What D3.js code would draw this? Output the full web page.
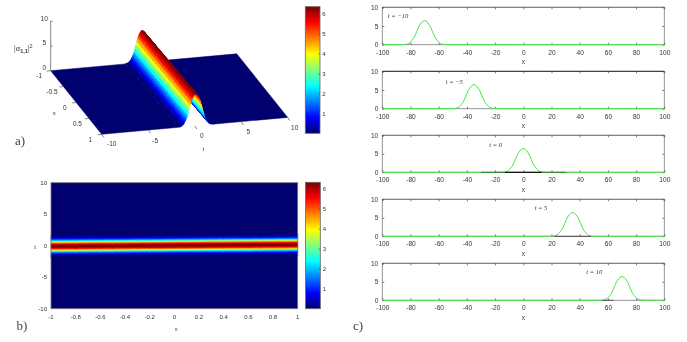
<!DOCTYPE html>
<html><head><meta charset="utf-8">
<script src="https://cdn.jsdelivr.net/npm/d3@7"></script>
<style>html,body{margin:0;padding:0;background:#fff}svg{display:block}text{font-family:"Liberation Sans",Arial,sans-serif;fill:#333}</style>
</head><body><svg id="c" width="687" height="342"></svg>
<script>
// --- data ---
const profileOffsets = [0,.1,.2,.3,.4,.5,.6,.7,.8,.9,1,1.1,1.2,1.3,1.4,1.5,1.6,1.7,1.8,2,3,21];
const profileValues  = [6.4,6.35,6.15,5.8,5.4,4.9,4.2,3.5,2.8,2.1,1.6,1.2,.85,.55,.35,.2,.12,.07,.04,.02,.01,0];
const flatFrom = 1.8;
const xRows = [-1,-.9,-.8,-.7,-.6,-.5,-.4,-.3,-.2,-.1,0,.1,.2,.3,.4,.5,.6,.7,.8,.9,1];
const ridgeCentres = [-.15,-.14,-.13,-.11,-.1,-.09,-.08,-.06,-.05,-.04,-.02,-.01,0,.02,.03,.04,.05,.07,.08,.09,.1];
const jetColours = ["#00006e","#0000ff","#00ffff","#ffff00","#ff0000","#7a0000"];
const jetStops = [0,.125,.375,.625,.875,1];
const barTicks = [1,2,3,4,5,6];
const zTicks = [0,5,10];
const xTicks3d = [-1,-.5,0,.5,1];
const tTicks3d = [-10,-5,0,5,10];
const xTicksHeat = [-1,-.8,-.6,-.4,-.2,0,.2,.4,.6,.8,1];
const tTicksHeat = [-10,-5,0,5,10];
const times = [-10,-5,0,5,10];
const timeLabels = ["t = −10","t = −5","t = 0","t = 5","t = 10"];
const pulseCentres = [-70,-35,0,35,70];
const pulseXTicks = [-100,-80,-60,-40,-20,0,20,40,60,80,100];
const pulseYTicks = [0,5,10];
const darkSegments = [[],[],[[-30,30,.45],[-13,13,.95]],[[22,48,.55]],[[56,64,.45]]];

// --- layout ---
const svg = d3.select("#c");
const defs = svg.append("defs");
defs.append("filter").attr("id","soft").attr("filterUnits","userSpaceOnUse")
  .attr("x",0).attr("y",0).attr("width",687).attr("height",342)
  .append("feGaussianBlur").attr("stdDeviation",.5);
const root = svg.append("g").attr("filter","url(#soft)");
root.append("rect").attr("width",687).attr("height",342).attr("fill","#fff");

const vDomain = [.05,6.4];
const jetPos = d3.scaleLinear().domain(vDomain).range([0,1]).clamp(true);
const jet = d3.scaleLinear().domain(jetStops).range(jetColours).interpolate(d3.interpolateRgb);
const colour = v => jet(jetPos(v));
const navy = colour(0);

// cells of the surface, back row first and high t first
const offs = [...profileOffsets.slice(1).map(d=>-d).reverse(), ...profileOffsets];
const vals = [...profileValues.slice(1).reverse(), ...profileValues];
const cells = [];
for (let r=0;r<xRows.length-1;r++){
  for (let i=offs.length-2;i>=0;i--){
    const v=(vals[i]+vals[i+1])/2;
    if (v<=.05) continue;
    cells.push({pts:[
      [ridgeCentres[r]+offs[i],xRows[r],vals[i]],
      [ridgeCentres[r]+offs[i+1],xRows[r],vals[i+1]],
      [ridgeCentres[r+1]+offs[i+1],xRows[r+1],vals[i+1]],
      [ridgeCentres[r+1]+offs[i],xRows[r+1],vals[i]]],v});
  }
}
// flat parts either side of the ridge
const edge = side => xRows.map((x,r)=>[ridgeCentres[r]+side*flatFrom,x,0]);
const plates = [
  [[10,-1,0],[10,1,0],...edge(1).reverse()],
  [[-10,-1,0],[-10,1,0],...edge(-1).reverse()]
];

// --- a) surface ---
const tx = d3.scaleLinear().domain([-10,10]).range([0,186]);
const ty = d3.scaleLinear().domain([-10,10]).range([0,-16.9]);
const xx = d3.scaleLinear().domain([-1,1]).range([0,51]);
const xy = d3.scaleLinear().domain([-1,1]).range([0,63.6]);
const zy = d3.scaleLinear().domain([0,10]).range([0,-49.7]);
const project = (t,x,z=0)=>[50.7+tx(t)+xx(x), 70.7+ty(t)+xy(x)+zy(z)];
const pathOf = (pts,f)=>"M"+pts.map(p=>f(p).join(",")).join("L")+"Z";
const gA = root.append("g");
gA.selectAll("path.plate").data(plates).join("path").attr("class","plate")
  .attr("d",d=>pathOf(d,p=>project(p[0],p[1],p[2])))
  .attr("fill",navy).attr("stroke",navy).attr("stroke-width",.5);
gA.selectAll("path.cell").data(cells).join("path").attr("class","cell")
  .attr("d",d=>pathOf(d.pts,p=>project(p[0],p[1],p[2])))
  .attr("fill",d=>colour(d.v)).attr("stroke",d=>colour(d.v)).attr("stroke-width",.9).attr("stroke-linejoin","round");
// z axis
const axisLine = (a,b)=>gA.append("line").attr("x1",a[0]).attr("y1",a[1]).attr("x2",b[0]).attr("y2",b[1]).attr("stroke","#666").attr("stroke-width",.8);
axisLine(project(-10,-1,0),project(-10,-1,10));
const lab = (g,x,y,s,size=6.5,anchor="middle")=>g.append("text").attr("x",x).attr("y",y).attr("font-size",size).attr("text-anchor",anchor).attr("dominant-baseline","central").text(s);
zTicks.forEach(z=>{const p=project(-10,-1,z);axisLine(p,[p[0]+2,p[1]+.4]);lab(gA,p[0]-6.5,p[1]-3,z);});
xTicks3d.forEach(x=>{const p=project(-10,x,0);axisLine(p,[p[0]-4,p[1]+.4]);lab(gA,p[0]-11.5,p[1]+5,x);});
tTicks3d.forEach(t=>{const p=project(t,1,0);axisLine(p,[p[0]+2.2,p[1]+3.2]);lab(gA,p[0]+(t===-10?10:7),p[1]+(t===-10?9:10),t);});
lab(gA,54.3,113,"x",6);
lab(gA,203.3,149,"t",6);
const zLabel = gA.append("text").attr("x",14).attr("y",51).attr("font-size",8.5);
zLabel.append("tspan").text("|").attr("font-family","Liberation Serif");
zLabel.append("tspan").text("α").attr("font-style","italic").attr("font-family","Liberation Serif");
zLabel.append("tspan").text("1,1").attr("font-size",5.5).attr("dy",1.5).attr("font-weight","bold");
zLabel.append("tspan").text("|").attr("dy",-1.5).attr("font-family","Liberation Serif");
zLabel.append("tspan").text("2").attr("font-size",5.5).attr("dy",-3);

// --- colour bars ---
const grad = defs.append("linearGradient").attr("id","jet").attr("x1",0).attr("x2",0).attr("y1",1).attr("y2",0);
jetStops.forEach((s,i)=>grad.append("stop").attr("offset",s).attr("stop-color",jetColours[i]));
function colourBar(x,y0,y1,h6,h1){
  const sc = d3.scaleLinear().domain([1,6]).range([h1,h6]);
  const g = root.append("g");
  g.append("rect").attr("x",x).attr("y",y0).attr("width",14.7).attr("height",y1-y0).attr("fill","url(#jet)").attr("stroke","#666").attr("stroke-width",.8);
  barTicks.forEach(v=>{
    g.append("line").attr("x1",x+13).attr("x2",x+14.7).attr("y1",sc(v)).attr("y2",sc(v)).attr("stroke","#444").attr("stroke-width",.6);
    lab(g,x+18.7,sc(v),v,6);
  });
}
colourBar(305.3,6.7,133.3,14,114);
colourBar(305.6,182.3,308.7,189.3,289);

// --- b) heat map ---
const hx = d3.scaleLinear().domain([-1,1]).range([51,297.7]);
const ht = d3.scaleLinear().domain([-10,10]).range([308.7,182.7]);
const gB = root.append("g");
gB.append("rect").attr("x",hx(-1)).attr("y",ht(10)).attr("width",hx(1)-hx(-1)).attr("height",ht(-10)-ht(10)).attr("fill",navy);
gB.selectAll("path.cell").data(cells).join("path").attr("class","cell")
  .attr("d",d=>pathOf(d.pts,p=>[hx(p[1]),ht(p[0])]))
  .attr("fill",d=>colour(d.v)).attr("stroke",d=>colour(d.v)).attr("stroke-width",.7);
gB.append("rect").attr("x",51).attr("y",182.7).attr("width",246.7).attr("height",126).attr("fill","none").attr("stroke","#777").attr("stroke-width",.8);
xTicksHeat.forEach(x=>lab(gB,hx(x),316.5,x,6));
tTicksHeat.forEach(t=>lab(gB,47,ht(t),t,6,"end"));
lab(gB,176,329,"x",5.5);
lab(gB,35,247,"t",6);

// --- panel letters ---
const letter=(x,y,s)=>root.append("text").attr("x",x).attr("y",y).attr("font-size",13).attr("text-anchor","middle").attr("dominant-baseline","central").style("font-family","Liberation Serif").style("fill","#444").text(s);
letter(20,140,"a)");letter(22,325,"b)");letter(358,325,"c)");

// --- c) pulses ---
const panelTops = [7.3,71.3,135.3,199.3,263.3];
const panelBottoms = [44.7,108.7,172.3,236.3,300.3];
const topShades = ["#777","#222","#777","#777","#777"];
const labelX = [398,454.3,495.7,541,594.3];
const labelY = [15,81,144,207.7,271.7];
const px = d3.scaleLinear().domain([-100,100]).range([382.3,664.3]);
times.forEach((time,k)=>{
  const py = d3.scaleLinear().domain([0,10]).range([panelBottoms[k],panelTops[k]]);
  const g = root.append("g");
  g.append("rect").attr("x",px(-100)).attr("y",panelTops[k]).attr("width",px(100)-px(-100)).attr("height",panelBottoms[k]-panelTops[k]).attr("fill","none").attr("stroke","#888").attr("stroke-width",.9);
  g.append("line").attr("x1",px(-100)).attr("x2",px(100)).attr("y1",panelTops[k]).attr("y2",panelTops[k]).attr("stroke",topShades[k]).attr("stroke-width",.9);
  const style = s=>{s.select(".domain").remove();s.selectAll("line").attr("stroke","#444").attr("stroke-width",.7);s.selectAll("text").attr("font-size",6.6).style("fill","#333");};
  g.append("g").attr("transform",`translate(0,${panelBottoms[k]})`).call(d3.axisBottom(px).tickValues(pulseXTicks).tickSize(-2).tickPadding(5.5).tickFormat(String)).call(style);
  g.append("g").attr("transform",`translate(0,${panelTops[k]})`).call(d3.axisTop(px).tickValues(pulseXTicks).tickSize(-2).tickFormat("")).call(style);
  g.append("g").attr("transform",`translate(${px(-100)},0)`).call(d3.axisLeft(py).tickValues(pulseYTicks).tickSize(-2).tickPadding(4).tickFormat(String)).call(style);
  g.append("g").attr("transform",`translate(${px(100)},0)`).call(d3.axisRight(py).tickValues(pulseYTicks).tickSize(-2).tickFormat("")).call(style);
  lab(g,px(0),panelBottoms[k]+17,"x",6.5);
  const pulse = [[-100,0],...offs.map((o,i)=>[pulseCentres[k]+o*8,vals[i]]).filter(d=>d[0]>-100&&d[0]<100),[100,0]];
  g.append("path").attr("d",d3.line().x(d=>px(d[0])).y(d=>py(d[1])).curve(d3.curveMonotoneX)(pulse)).attr("fill","none").attr("stroke","#3fe83f").attr("stroke-width",1);
  darkSegments[k].forEach(s=>g.append("line").attr("x1",px(s[0])).attr("x2",px(s[1])).attr("y1",py(0)).attr("y2",py(0)).attr("stroke","#000").attr("stroke-opacity",s[2]).attr("stroke-width",1));
  g.append("text").attr("x",labelX[k]).attr("y",labelY[k]).attr("font-size",6.5).attr("font-style","italic").attr("text-anchor","middle").attr("dominant-baseline","central").style("font-family","Liberation Serif").text(timeLabels[k]);
});
</script></body></html>
